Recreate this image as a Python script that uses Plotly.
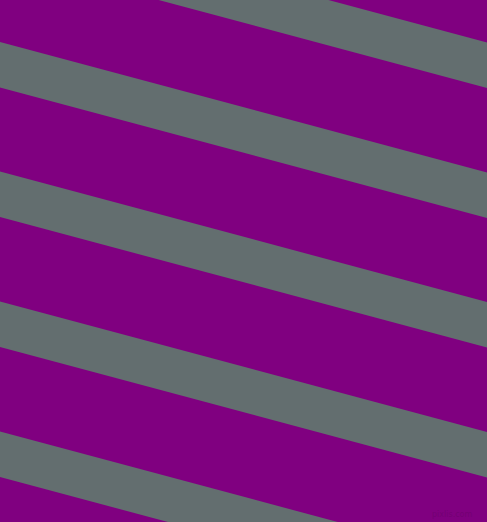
import math
import plotly.graph_objects as go

largura = 487
altura = 522

# bordas superiores das faixas (y em x=0, pixels a partir do topo)
inicio_faixas = [-88, 42, 171.5, 301.5, 431.5]
espessura = 45.5
angulo = 15  # graus

cor_fundo = '#800080'
cor_faixa = '#636e6f'

incl = math.tan(math.radians(angulo))

fig = go.Figure()

for y0 in inicio_faixas:
    y1 = y0 + incl * largura
    fig.add_trace(go.Scatter(
        x=[0, largura, largura, 0, 0],
        y=[y0, y1, y1 + espessura, y0 + espessura, y0],
        mode='lines',
        fill='toself',
        fillcolor=cor_faixa,
        line=dict(width=0, color=cor_faixa),
        hoverinfo='skip',
        showlegend=False
    ))

fig.add_annotation(
    x=474, y=514, xref='x', yref='y',
    text='pixlis.com',
    showarrow=False,
    xanchor='right', yanchor='middle',
    font=dict(family='DejaVu Sans', size=8, color='#740074')
)

fig.update_xaxes(range=[0, largura], visible=False, fixedrange=True)
fig.update_yaxes(range=[altura, 0], visible=False, fixedrange=True)

fig.update_layout(
    width=largura,
    height=altura,
    margin=dict(l=0, r=0, t=0, b=0),
    paper_bgcolor=cor_fundo,
    plot_bgcolor=cor_fundo
)

# tira a margem branca da pagina
fig.write_html(
    'out.html',
    config={'displayModeBar': False},
    post_script="document.body.style.margin='0';document.body.style.overflow='hidden';"
)
